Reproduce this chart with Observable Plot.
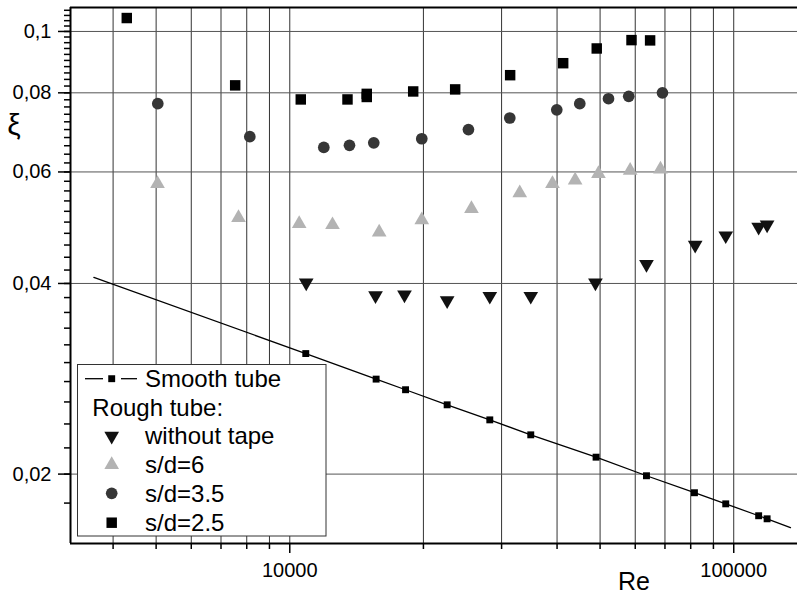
<!DOCTYPE html>
<html><head><meta charset="utf-8">
<script src="https://cdn.jsdelivr.net/npm/d3@7"></script>
<script src="https://cdn.jsdelivr.net/npm/@observablehq/plot@0.6"></script>
<style>body{margin:0;background:#fff} #chart{width:797px;height:596px}</style>
</head><body><div id="chart"></div>
<script>
// ---- data ----
const smoothRe = [10865, 15650, 18230, 22620, 28220, 34900, 48970, 63600, 81570, 95940, 113800, 118900];
const smoothXi = [0.0310, 0.02825, 0.02718, 0.02573, 0.02436, 0.02307, 0.02127, 0.01988, 0.01869, 0.01795, 0.01719, 0.01700];
const smoothEndsRe = [3620, 134200];
const smoothEndsXi = [0.0409, 0.01646];
const noTapeRe = [10890, 15600, 18130, 22620, 28220, 34900, 48810, 63600, 81880, 95940, 113800, 118900];
const noTapeXi = [0.0401, 0.0383, 0.0384, 0.0376, 0.0382, 0.0382, 0.0401, 0.0429, 0.0460, 0.0476, 0.0491, 0.0495];
const sd6Re = [5036, 7665, 10500, 12480, 15900, 19830, 25660, 32960, 39060, 43930, 49580, 58440, 68390];
const sd6Xi = [0.0575, 0.0508, 0.0497, 0.0495, 0.0482, 0.0504, 0.0525, 0.0556, 0.0575, 0.0582, 0.0596, 0.0603, 0.0606];
const sd35Re = [5043, 8128, 11930, 13630, 15460, 19830, 25260, 31300, 39940, 45000, 52230, 58010, 69100];
const sd35Xi = [0.0769, 0.0682, 0.0656, 0.0661, 0.0667, 0.0677, 0.0700, 0.0730, 0.0752, 0.0769, 0.0783, 0.0790, 0.0800];
const sd25Re = [4294, 7534, 10587, 13490, 14907, 14907, 18967, 23580, 31360, 41290, 49140, 58850, 64810];
const sd25Xi = [0.1050, 0.0822, 0.0781, 0.0781, 0.0797, 0.0788, 0.0804, 0.0810, 0.0853, 0.0891, 0.0940, 0.0969, 0.0968];

const xMajor = [10000, 100000];
const xLabels = ["10000", "100000"];
const xMinor = [4000, 5000, 6000, 7000, 8000, 9000, 20000, 30000, 40000, 50000, 60000, 70000, 80000, 90000];
const yMajor = [0.02, 0.04, 0.06, 0.08, 0.1];
const yLabels = ["0,02", "0,04", "0,06", "0,08", "0,1"];
const yMinor = d3.range(18, 110, 2).map(v => v / 1000);
const xDomain = [3207, 139200];
const yDomain = [0.01554, 0.1091];

const legendLabels = ["Smooth tube", "Rough tube:", "without tape", "s/d=6", "s/d=3.5", "s/d=2.5"];
const xTitle = "Re";
const yTitle = "ξ";

// ---- build ----
const FONT = "'Liberation Sans', Arial, sans-serif";
const zip = (xs, ys) => xs.map((x, i) => ({x, y: ys[i]}));
const smooth = zip(smoothRe, smoothXi);
const smoothLine = [...zip(smoothEndsRe, smoothEndsXi), ...smooth].sort((a, b) => a.x - b.x);
const sqrt3 = Math.sqrt(3);
const triangleDown = {
  draw(ctx, size) {
    const y = Math.sqrt(size / (sqrt3 * 3));
    ctx.moveTo(0, 2 * y);
    ctx.lineTo(-sqrt3 * y, -y);
    ctx.lineTo(sqrt3 * y, -y);
    ctx.closePath();
  }
};
const C = {noTape: "#111", sd6: "#b3b3b3", sd35: "#363636", sd25: "#000"};
const R = {sq: 5.9, circ: 5.85, tri: 5.45, small: 3.9};

const chart = Plot.plot({
  width: 797, height: 596,
  marginLeft: 70, marginRight: 0, marginTop: 7, marginBottom: 53,
  style: {background: "#fff", fontFamily: FONT, fontSize: "20px", color: "#000"},
  x: {type: "log", domain: xDomain, axis: null},
  y: {type: "log", domain: yDomain, axis: null},
  marks: [
    Plot.ruleX([...xMinor, ...xMajor], {stroke: "#333", strokeWidth: 1}),
    Plot.ruleY(yMajor, {stroke: "#555", strokeWidth: 1}),
    Plot.line(smoothLine, {x: "x", y: "y", stroke: "#000", strokeWidth: 1.3}),
    Plot.dot(smooth, {x: "x", y: "y", symbol: "square", r: R.small, fill: "#000"}),
    Plot.dot(zip(noTapeRe, noTapeXi), {x: "x", y: "y", symbol: triangleDown, r: R.tri, fill: C.noTape}),
    Plot.dot(zip(sd6Re, sd6Xi), {x: "x", y: "y", symbol: "triangle", r: R.tri, fill: C.sd6}),
    Plot.dot(zip(sd35Re, sd35Xi), {x: "x", y: "y", symbol: "circle", r: R.circ, fill: C.sd35}),
    Plot.dot(zip(sd25Re, sd25Xi), {x: "x", y: "y", symbol: "square", r: R.sq, fill: C.sd25}),
    Plot.axisX(xMajor, {anchor: "bottom", tickSize: 10, tickPadding: 9, fontSize: 20, label: null, strokeWidth: 1.5,
      tickFormat: d => xLabels[xMajor.indexOf(d)]}),
    Plot.axisX(xMinor, {anchor: "bottom", tickSize: 6, label: null, strokeWidth: 1.5, tickFormat: () => ""}),
    Plot.axisY(yMajor, {anchor: "left", tickSize: 12, tickPadding: 7, fontSize: 20, label: null, strokeWidth: 1.5,
      tickFormat: d => yLabels[yMajor.indexOf(d)]}),
    Plot.axisY(yMinor, {anchor: "left", tickSize: 6, label: null, strokeWidth: 1.5, tickFormat: () => ""}),
    Plot.ruleY([yDomain[0]], {stroke: "#000", strokeWidth: 2}),
    Plot.ruleY([yDomain[1]], {stroke: "#000", strokeWidth: 2}),
    Plot.ruleX([xDomain[0]], {stroke: "#000", strokeWidth: 2})
  ]
});
document.getElementById("chart").appendChild(chart);

// ---- titles & legend ----
const svg = d3.select(chart);
svg.append("text").attr("x", 618).attr("y", 590).attr("text-anchor", "start").attr("font-family", FONT).attr("font-size", 25).attr("fill", "#000").text(xTitle);
svg.append("text").attr("x", 14).attr("y", 135).attr("text-anchor", "middle").attr("font-family", FONT).attr("font-size", 30).attr("fill", "#000").text(yTitle);

const lg = svg.append("g").attr("font-family", FONT).attr("font-size", 24).attr("fill", "#000").attr("text-anchor", "start");
lg.append("rect").attr("x", 77.5).attr("y", 364.5).attr("width", 248.5).attr("height", 171.5)
  .attr("fill", "#fff").attr("stroke", "#333").attr("stroke-width", 1);
const rowY = [378.7, 407.3, 436, 464.7, 493.3, 522.7];
const symX = 111.7, textX = 145;
const sym = (type, r) => d3.symbol().type(type).size(Math.PI * r * r)();
// smooth tube entry
lg.append("line").attr("x1", 85).attr("x2", 103).attr("y1", rowY[0]).attr("y2", rowY[0]).attr("stroke", "#000").attr("stroke-width", 1.3);
lg.append("line").attr("x1", 121).attr("x2", 137).attr("y1", rowY[0]).attr("y2", rowY[0]).attr("stroke", "#000").attr("stroke-width", 1.3);
lg.append("path").attr("d", sym(d3.symbolSquare, R.small)).attr("transform", `translate(${symX},${rowY[0]})`).attr("fill", "#000");
const entries = [
  [2, triangleDown, R.tri, C.noTape],
  [3, d3.symbolTriangle, R.tri, C.sd6],
  [4, d3.symbolCircle, R.circ, C.sd35],
  [5, d3.symbolSquare, R.sq, C.sd25]
];
for (const [i, type, r, color] of entries) {
  lg.append("path").attr("d", sym(type, r)).attr("transform", `translate(${symX},${rowY[i]})`).attr("fill", color);
}
legendLabels.forEach((t, i) => {
  lg.append("text").attr("x", i === 1 ? 92.3 : textX).attr("y", rowY[i] + 8.3).attr("text-anchor", "start").text(t);
});
</script>
</body></html>
